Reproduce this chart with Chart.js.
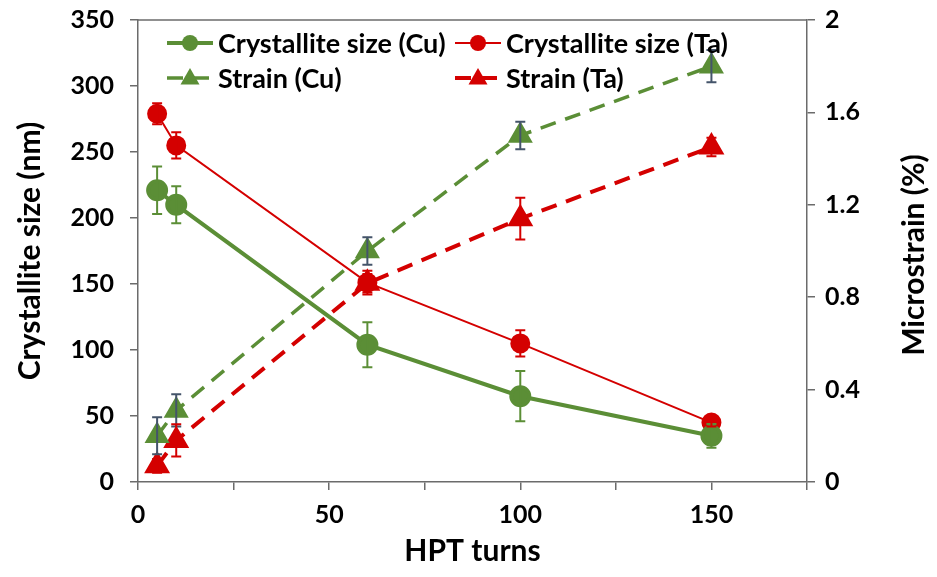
<!DOCTYPE html>
<html>
<head>
<meta charset="utf-8">
<script src="https://cdn.jsdelivr.net/npm/chart.js@4.4.1/dist/chart.umd.min.js"></script>
<style>
  html, body { margin: 0; padding: 0; background: #fff; }
  #wrap { width: 937px; height: 577px; }
</style>
</head>
<body>
<div id="wrap"><canvas id="hptChart" width="937" height="577"></canvas></div>
<script>
const turns = [5, 10, 60, 100, 150];

const sizeCu = [221, 210, 104, 65, 35];
const sizeCuErr = [18, 14, 17, 19, 9];
const sizeTa = [279, 255, 151, 105, 45];
const sizeTaErr = [8, 10, 9, 10, 3];

const strainCu = [0.2, 0.31, 1.0, 1.5, 1.8];
const strainCuErr = [0.08, 0.07, 0.06, 0.06, 0.07];
const strainTa = [0.07, 0.18, 0.86, 1.14, 1.45];
const strainTaErr = [0.03, 0.07, 0.04, 0.09, 0.04];

const GREEN = "#5b8e36";
const RED = "#d40000";
const ERR_BLUE = "#44546a";
const AXIS = "#6b6b6b";
const FONT = "Lato";

function toPoints(values) {
  return turns.map((t, i) => ({ x: t, y: values[i] }));
}

// y scales: fixed width, no extra top/bottom room for the end labels
function fixY(width) {
  return (s) => {
    s.width = width;
    s.paddingTop = 0;
    s.paddingBottom = 0;
  };
}

// error bars, drawn on top of every dataset
const errorBars = {
  id: "errorBars",
  afterDatasetsDraw(chart) {
    const ctx = chart.ctx;
    const xs = chart.scales.x;
    chart.data.datasets.forEach((ds) => {
      const ys = chart.scales[ds.yAxisID];
      ctx.save();
      ctx.strokeStyle = ds.errColor;
      ctx.lineWidth = 2;
      ds.data.forEach((p, i) => {
        const e = ds.errors[i];
        const px = xs.getPixelForValue(p.x);
        const top = ys.getPixelForValue(p.y + e);
        const bot = ys.getPixelForValue(p.y - e);
        ctx.beginPath();
        ctx.moveTo(px, top); ctx.lineTo(px, bot);
        ctx.moveTo(px - 5, top); ctx.lineTo(px + 5, top);
        ctx.moveTo(px - 5, bot); ctx.lineTo(px + 5, bot);
        ctx.stroke();
      });
      ctx.restore();
    });
  }
};

function marker(ctx, style, x, y, r) {
  ctx.beginPath();
  if (style === "triangle") {
    ctx.moveTo(x, y - r);
    ctx.lineTo(x + r * 0.95, y + r * 0.65);
    ctx.lineTo(x - r * 0.95, y + r * 0.65);
    ctx.closePath();
  } else {
    ctx.arc(x, y, r, 0, Math.PI * 2);
  }
  ctx.fill();
}

// frame top line, right title and 2x2 legend
const extras = {
  id: "extras",
  afterDraw(chart) {
    const ctx = chart.ctx;
    const a = chart.chartArea;
    ctx.save();
    ctx.strokeStyle = AXIS;
    ctx.lineWidth = 1.5;
    ctx.beginPath();
    ctx.moveTo(a.left, a.top);
    ctx.lineTo(a.right, a.top);
    ctx.stroke();

    ctx.fillStyle = "#000";
    ctx.font = "bold 30px " + FONT;
    ctx.textAlign = "center";
    ctx.textBaseline = "middle";
    ctx.translate(914, (a.top + a.bottom) / 2 + 4);
    ctx.rotate(-Math.PI / 2);
    ctx.fillText("Microstrain (%)", 0, 0);
    ctx.restore();

    const slots = [[167, 43], [455, 43], [167, 78], [455, 78]];
    chart.data.datasets.forEach((ds, i) => {
      const [lx, ly] = slots[i];
      ctx.save();
      ctx.strokeStyle = ds.borderColor;
      ctx.lineWidth = ds.borderWidth;
      ctx.setLineDash(ds.borderDash || []);
      ctx.beginPath();
      ctx.moveTo(lx, ly);
      ctx.lineTo(lx + 46, ly);
      ctx.stroke();
      ctx.setLineDash([]);
      ctx.fillStyle = ds.backgroundColor;
      marker(ctx, ds.pointStyle, lx + 23, ly, ds.pointStyle === "triangle" ? 10 : 8);
      ctx.fillStyle = "#000";
      ctx.font = "bold 27px " + FONT;
      ctx.textBaseline = "middle";
      ctx.fillText(ds.label, lx + 51, ly + 1);
      ctx.restore();
    });
  }
};

new Chart(document.getElementById("hptChart"), {
  type: "line",
  data: {
    datasets: [
      {
        label: "Crystallite size (Cu)",
        data: toPoints(sizeCu),
        errors: sizeCuErr,
        errColor: GREEN,
        yAxisID: "y",
        borderColor: GREEN,
        backgroundColor: GREEN,
        borderWidth: 4,
        pointStyle: "circle",
        pointRadius: 9,
      },
      {
        label: "Crystallite size (Ta)",
        data: toPoints(sizeTa),
        errors: sizeTaErr,
        errColor: RED,
        yAxisID: "y",
        borderColor: RED,
        backgroundColor: RED,
        borderWidth: 2,
        pointStyle: "circle",
        pointRadius: 9,
      },
      {
        label: "Strain (Cu)",
        data: toPoints(strainCu),
        errors: strainCuErr,
        errColor: ERR_BLUE,
        yAxisID: "y1",
        borderColor: GREEN,
        backgroundColor: GREEN,
        borderWidth: 3.5,
        borderDash: [16, 10],
        pointStyle: "triangle",
        pointRadius: 11,
      },
      {
        label: "Strain (Ta)",
        data: toPoints(strainTa),
        errors: strainTaErr,
        errColor: RED,
        yAxisID: "y1",
        borderColor: RED,
        backgroundColor: RED,
        borderWidth: 4,
        borderDash: [16, 10],
        pointStyle: "triangle",
        pointRadius: 11,
      },
    ],
  },
  options: {
    responsive: false,
    animation: false,
    layout: { padding: { top: 20, left: 0, right: 0, bottom: 0 } },
    plugins: {
      legend: { display: false },
      tooltip: { enabled: false },
    },
    scales: {
      x: {
        type: "linear",
        min: 0,
        max: 175,
        afterFit: (s) => { s.height = 95; },
        ticks: {
          stepSize: 25,
          padding: 10,
          color: "#000",
          font: { family: FONT, size: 25, weight: "bold" },
          callback: (v) => (v % 50 === 0 ? v : ""),
        },
        grid: { drawOnChartArea: false, tickLength: 8, color: AXIS, lineWidth: 1.5 },
        border: { color: AXIS, width: 1.5 },
        title: {
          display: true,
          text: "HPT turns",
          color: "#000",
          font: { family: FONT, size: 30, weight: "bold" },
          padding: { top: 0, bottom: 8 },
        },
      },
      y: {
        position: "left",
        min: 0,
        max: 350,
        afterFit: fixY(138),
        ticks: {
          stepSize: 50,
          padding: 16,
          color: "#000",
          font: { family: FONT, size: 25, weight: "bold" },
        },
        grid: { drawOnChartArea: false, tickLength: 8, color: AXIS, lineWidth: 1.5 },
        border: { color: AXIS, width: 1.5 },
        title: {
          display: true,
          text: "Crystallite size (nm)",
          color: "#000",
          font: { family: FONT, size: 30, weight: "bold" },
          padding: { top: 12, bottom: 0 },
        },
      },
      y1: {
        position: "right",
        min: 0,
        max: 2,
        afterFit: fixY(130),
        ticks: {
          stepSize: 0.4,
          padding: 10,
          color: "#000",
          font: { family: FONT, size: 25, weight: "bold" },
          callback: (v) => Number(v.toFixed(1)),
        },
        grid: { drawOnChartArea: false, tickLength: 8, color: AXIS, lineWidth: 1.5 },
        border: { color: AXIS, width: 1.5 },
      },
    },
  },
  plugins: [errorBars, extras],
});
</script>
</body>
</html>
